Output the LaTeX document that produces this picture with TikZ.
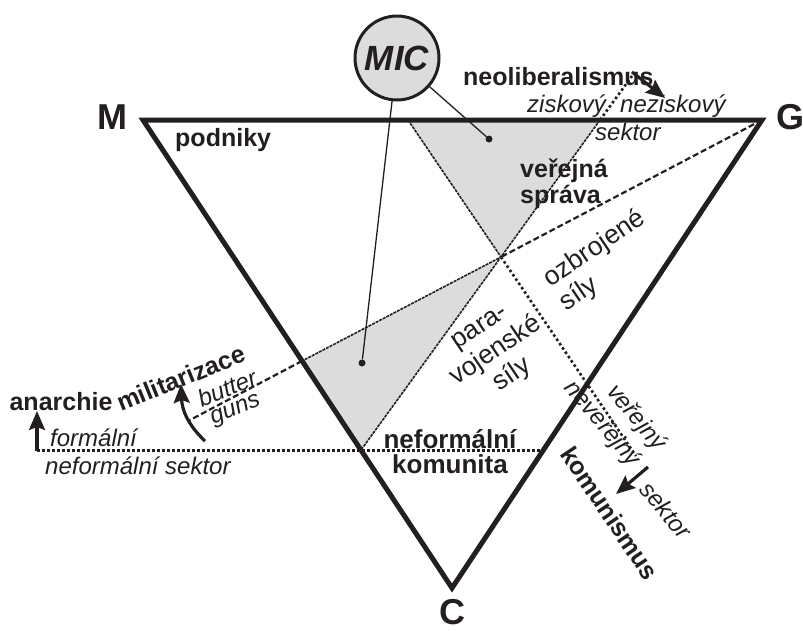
\documentclass[tikz,border=0pt]{standalone}
\usepackage{fontspec}
\setmainfont{Liberation Sans}
\usetikzlibrary{arrows.meta,positioning,shapes}
\definecolor{ink}{HTML}{231F20}
\definecolor{greyfill}{HTML}{DCDCDC}
\tikzset{x=1pt,y=-1pt}

\begin{document}
\begin{tikzpicture}
  \tikzstyle{every node}=[text=ink, inner sep=0pt]
  \tikzstyle{vertexlab}=[font=\fontsize{36}{36}\selectfont\bfseries]
  \tikzstyle{boldlab}=[font=\fontsize{25}{26}\selectfont\bfseries]
  \tikzstyle{slanted}=[font=\fontsize{24}{26}\selectfont\itshape]
  \tikzstyle{upright}=[font=\fontsize{26.5}{29}\selectfont]
  \tikzstyle{side}=[draw=ink, line width=5pt, line join=miter]
  \tikzstyle{fine}=[draw=ink, line width=1.6pt, dash pattern=on 3pt off 1pt]
  \tikzstyle{dashline}=[draw=ink, line width=2.2pt, dash pattern=on 6pt off 3pt]
  \tikzstyle{dotline}=[draw=ink, line width=3pt, dash pattern=on 3pt off 2pt]
  \tikzstyle{dotthin}=[draw=ink, line width=2.6pt, dash pattern=on 2.6pt off 2.6pt]
  \tikzstyle{leader}=[draw=ink, line width=1.3pt]
  \tikzstyle{spot}=[circle, fill=ink, minimum size=7pt]
  \tikzstyle{thrust}=[draw=ink, line width=3.2pt, arrows={-Stealth[length=19pt, width=16pt, inset=3pt]}]

  \useasboundingbox (0,0) rectangle (803,630);

  % triangle and crossing lines
  \coordinate (m) at (143,120);
  \coordinate (g) at (762,120);
  \coordinate (c) at (452,588);
  \coordinate (x) at (501,257);
  \coordinate (t1) at (408,120);
  \coordinate (t2) at (600,120);
  \coordinate (l2) at (302,361);
  \coordinate (b2) at (361,450);
  \coordinate (aend) at (636,456);
  \coordinate (bend) at (632,76);
  \coordinate (cend) at (190,420);
  \coordinate (h0) at (37,450);
  \coordinate (h1) at (543,450);

  \fill[greyfill] (t1) -- (t2) -- (x) -- cycle;
  \fill[greyfill] (x) -- (l2) -- (b2) -- cycle;
  \draw[fine] (t1) -- (x) -- (l2);
  \draw[fine] (t2) -- (x) -- (b2);
  \draw[dashline] (g) -- (x);
  \draw[dashline] (l2) -- (cend);
  \draw[dotline] (h0) -- (h1);
  \draw[dotthin] (x) -- (aend);
  \draw[dotthin] (t2) -- (bend);
  \draw[side] (m) -- (g) -- (c) -- cycle;

  % corners
  \node[vertexlab, anchor=base east] (lm) at (128,129) {M};
  \node[vertexlab, anchor=base west] (lg) at (776,129) {G};
  \node[vertexlab, anchor=base] (lc) at (452,624) {C};

  % sectors
  \node[boldlab, anchor=base west] (podniky) at (175,146) {podniky};
  \node[boldlab, anchor=base west, align=left] (sprava) at (520,203) {veřejná\\správa};
  \node[upright, align=left, rotate=34] (ozbr) at (603,261) {ozbrojené\\síly};
  \node[upright, align=center, rotate=34] (para) at (497,353) {para-\\vojenské\\síly};
  \node[boldlab, font=\fontsize{26}{25}\selectfont\bfseries, align=center] (komunita) at (450,452) {neformální\\komunita};

  % axes
  \node[boldlab, anchor=base west] (neolib) at (463,85) {neoliberalismus};
  \node[slanted, anchor=base west] (zisk) at (527,112) {ziskový};
  \node[slanted, anchor=base west] (nezisk) at (620,112) {neziskový};
  \node[slanted, anchor=base west] (sektz) at (595,140) {sektor};
  \node[slanted, rotate=-50] (verej) at (636,418) {veřejný};
  \node[slanted, rotate=-50] (neverej) at (602,424) {neveřejný};
  \node[slanted, rotate=-50] (sektv) at (666,510) {sektor};
  \node[boldlab, rotate=-56] (komun) at (610,513) {komunismus};
  \node[boldlab, anchor=base] (anarch) at (61,410) {anarchie};
  \node[boldlab, rotate=22] (milit) at (181,378) {militarizace};
  \node[slanted, rotate=22] (butter) at (227,388) {butter};
  \node[slanted, rotate=22] (guns) at (236,411) {guns};
  \node[slanted, anchor=base west] (form) at (50,446) {formální};
  \node[slanted, anchor=base west] (neform) at (45,474) {neformální sektor};

  % arrows
  \coordinate (f0) at (37,451);
  \coordinate (f1) at (37,411);
  \coordinate (u0) at (205,441);
  \coordinate (u1) at (181,384);
  \coordinate (n0) at (632,72);
  \coordinate (n1) at (665,98);
  \coordinate (k0) at (648,467);
  \coordinate (k1) at (616,494);
  \draw[thrust] (f0) -- (f1);
  \draw[thrust] (u0) .. controls (188,425) and (182,410) .. (u1);
  \draw[thrust] (n0) -- (n1);
  \draw[thrust] (k0) -- (k1);

  % MIC
  \node[circle, draw=ink, line width=3pt, fill=greyfill, minimum size=84pt,
        font=\fontsize{35}{35}\selectfont\bfseries\itshape] (mic) at (397,58) {MIC};
  \node[spot] (pa) at (489,139) {};
  \node[spot] (pb) at (362,363) {};
  \draw[leader] (mic) -- (pa);
  \draw[leader] (mic) -- (pb);
\end{tikzpicture}
\end{document}
